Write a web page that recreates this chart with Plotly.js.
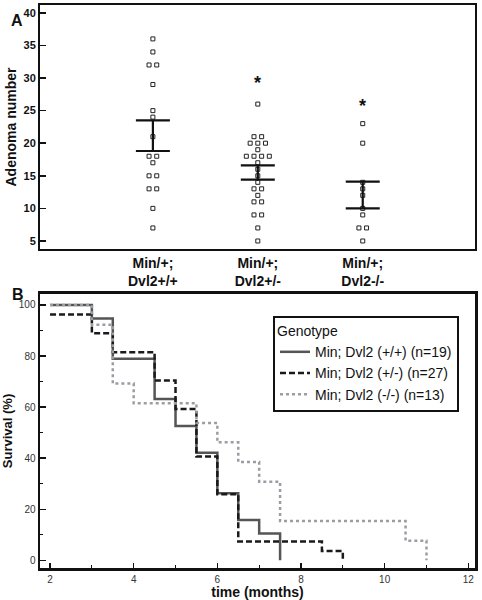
<!DOCTYPE html>
<html>
<head>
<meta charset="utf-8">
<script src="https://cdn.plot.ly/plotly-3.0.1.min.js"></script>
<style>html,body{margin:0;padding:0;background:#fff;}#chart{width:482px;height:600px;}</style>
</head>
<body>
<div id="chart"></div>
<script>
// ---------- Panel A data ----------
const categories = ["Min/+;<br>Dvl2+/+", "Min/+;<br>Dvl2+/-", "Min/+;<br>Dvl2-/-"];
const adenomaWT  = [36, 34, 32, 32, 29, 25, 24, 21, 18, 18, 17, 15, 15, 13, 13, 10, 7];
const adenomaHet = [26, 21, 21, 20, 20, 20, 19, 18, 18, 18, 18, 17, 16, 15, 14, 13, 13, 12, 11, 11, 9, 9, 7, 5];
const adenomaKO  = [23, 20, 14, 13, 12, 10, 9, 7, 7, 5];
const groupMeans = [21.15, 15.5, 12.05];
const groupSEM   = [2.35, 1.1, 2.05];
const starLevels = [null, 29.9, 26.3];
const yTicksA = [5, 10, 15, 20, 25, 30, 35, 40];

// ---------- Panel B data (Kaplan-Meier) ----------
const seriesNames = ["Min; Dvl2 (+/+) (n=19)", "Min; Dvl2 (+/-) (n=27)", "Min; Dvl2 (-/-) (n=13)"];
const timeWT  = [2, 3, 3.5, 4.5, 5, 5.5, 6, 6.5, 7, 7.5];
const survWT  = [100, 94.7, 78.9, 63.2, 52.6, 42.1, 26.3, 15.8, 10.5, 0];
const timeHet = [2, 3, 3.5, 4.5, 5, 5.5, 6, 6.5, 8.5, 9];
const survHet = [96.3, 88.9, 81.5, 70.4, 59.3, 40.7, 25.9, 7.4, 3.7, 0];
const timeKO  = [2, 3, 3.5, 4, 5.5, 6, 6.5, 7, 7.5, 10.5, 11];
const survKO  = [100, 92.3, 69.2, 61.5, 53.8, 46.2, 38.5, 30.8, 15.4, 7.7, 0];

const FONT = "Arial, 'Liberation Sans', Helvetica, sans-serif";
const INK = "#111";

// spread tied values horizontally around the category position
function jitter(values, center, spacing) {
  const counts = {}, seen = {};
  values.forEach(v => counts[v] = (counts[v] || 0) + 1);
  return values.map(v => {
    const k = seen[v] || 0; seen[v] = k + 1;
    return center + (k - (counts[v] - 1) / 2) * spacing;
  });
}
const groups = [adenomaWT, adenomaHet, adenomaKO];
const traces = [];
groups.forEach((vals, i) => {
  traces.push({
    x: jitter(vals, i, 0.073), y: vals, xaxis: 'x', yaxis: 'y',
    type: 'scatter', mode: 'markers', showlegend: false, hoverinfo: 'y',
    marker: {symbol: 'square-open', size: 4, color: '#222', line: {width: 1, color: '#222'}}
  });
});
traces.push({
  x: [0, 1, 2], y: groupMeans, xaxis: 'x', yaxis: 'y', type: 'scatter', mode: 'markers',
  showlegend: false, marker: {size: 1, color: 'rgba(0,0,0,0)'},
  error_y: {type: 'data', array: groupSEM, visible: true, width: 17, thickness: 2.2, color: INK}
});

const survStyles = [
  {color: '#555', dash: 'solid', width: 2.5},
  {color: '#1a1a1a', dash: '6px,3px', width: 2.5},
  {color: '#9a9ea3', dash: 'dot', width: 2.5}
];
[[timeWT, survWT], [timeHet, survHet], [timeKO, survKO]].forEach((d, i) => {
  traces.push({
    x: d[0], y: d[1], xaxis: 'x2', yaxis: 'y2', type: 'scatter', mode: 'lines',
    name: seriesNames[i], line: Object.assign({shape: 'hv'}, survStyles[i])
  });
});

const annotations = [];
starLevels.forEach((s, i) => {
  if (s !== null) annotations.push({
    x: i, y: s, xref: 'x', yref: 'y', text: '*', showarrow: false, yshift: -4,
    font: {family: FONT, size: 18, color: INK, weight: 'bold'}
  });
});
annotations.push({xref: 'paper', yref: 'paper', x: -0.072, y: 0.991, text: 'A', showarrow: false,
  font: {family: FONT, size: 16, color: INK, weight: 'bold'}});
annotations.push({xref: 'paper', yref: 'paper', x: -0.070, y: 0.486, text: 'B', showarrow: false,
  font: {family: FONT, size: 16, color: INK, weight: 'bold'}});

const layout = {
  width: 482, height: 600,
  margin: {l: 40, r: 7, t: 5, b: 32},
  paper_bgcolor: '#fff', plot_bgcolor: '#fff',
  font: {family: FONT, color: INK},
  showlegend: true,
  xaxis: {
    domain: [0, 1], anchor: 'y', range: [-1.076, 3.07],
    tickvals: [0, 1, 2], ticktext: categories, ticks: '',
    tickfont: {family: FONT, size: 14, color: INK, weight: 'bold'},
    showline: true, mirror: true, linewidth: 2, linecolor: INK,
    showgrid: false, zeroline: false, fixedrange: true
  },
  yaxis: {
    domain: [0.5666, 1], anchor: 'x', range: [3.77, 41.2],
    tickvals: yTicksA, ticks: 'inside', ticklen: 6, tickwidth: 1.5, tickcolor: INK,
    tickfont: {family: FONT, size: 11, color: INK, weight: 'bold'},
    showline: true, mirror: true, linewidth: 2, linecolor: INK,
    showgrid: false, zeroline: false,
    title: {text: 'Adenoma number', font: {family: FONT, size: 14, color: INK, weight: 'bold'}, standoff: 4}
  },
  xaxis2: {
    domain: [0, 1], anchor: 'y2', range: [1.76, 12.16],
    tick0: 2, dtick: 2, ticks: 'inside', ticklen: 5, tickwidth: 1.5, tickcolor: INK,
    minor: {dtick: 1, ticks: 'inside', ticklen: 3, tickwidth: 1, tickcolor: INK},
    tickfont: {family: FONT, size: 10, color: '#333'},
    showline: true, mirror: true, linewidth: 2.5, linecolor: INK,
    showgrid: false, zeroline: false,
    title: {text: 'time (months)', font: {family: FONT, size: 14, color: INK, weight: 'bold'}, standoff: 2}
  },
  yaxis2: {
    domain: [0, 0.4867], anchor: 'x2', range: [-3, 104.3],
    tick0: 0, dtick: 20, ticks: 'inside', ticklen: 6, tickwidth: 1.5, tickcolor: INK,
    minor: {dtick: 10, ticks: 'inside', ticklen: 3, tickwidth: 1, tickcolor: INK},
    tickfont: {family: FONT, size: 10, color: '#333'},
    showline: true, mirror: true, linewidth: 2.5, linecolor: INK,
    showgrid: false, zeroline: false,
    title: {text: 'Survival (%)', font: {family: FONT, size: 13, color: INK, weight: 'bold'}, standoff: 4}
  },
  legend: {
    x: 0.5356, y: 0.4476, xanchor: 'left', yanchor: 'top', xref: 'paper', yref: 'paper',
    bgcolor: '#fff', bordercolor: INK, borderwidth: 2,
    font: {family: FONT, size: 14, color: INK},
    title: {text: 'Genotype', font: {family: FONT, size: 14, color: INK}},
    tracegroupgap: 0
  },
  annotations: annotations
};

Plotly.newPlot('chart', traces, layout, {displayModeBar: false, staticPlot: true});
</script>
</body>
</html>
